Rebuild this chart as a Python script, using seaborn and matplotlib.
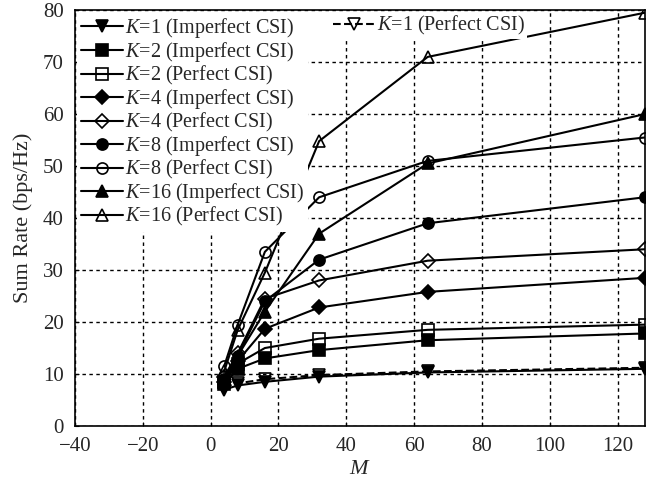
import matplotlib
matplotlib.use("Agg")
import matplotlib.pyplot as plt
import seaborn as sns
from matplotlib.lines import Line2D

M = [4, 8, 16, 32, 64, 128]
k1_imp = [7.0, 7.8, 8.5, 9.5, 10.3, 11.0]
k1_perf = [7.5, 8.2, 9.0, 9.8, 10.5, 11.2]
k2_imp = [8.0, 11.0, 13.0, 14.6, 16.5, 17.8]
k2_perf = [8.5, 12.0, 15.0, 16.8, 18.5, 19.5]
k4_imp = [8.5, 12.5, 18.7, 22.8, 25.8, 28.5]
k4_perf = [9.5, 14.0, 24.5, 28.0, 31.8, 34.0]
k8_imp = [9.0, 13.5, 24.0, 32.0, 39.0, 44.0]
k8_perf = [11.5, 19.5, 33.5, 44.0, 51.0, 55.5]
k16_imp = [8.5, 13.5, 22.0, 37.0, 50.5, 60.0]
k16_perf = [10.5, 18.5, 29.5, 54.8, 71.0, 79.5]

labels = ["$K$=1 (Imperfect CSI)", "$K$=2 (Imperfect CSI)", "$K$=2 (Perfect CSI)",
          "$K$=4 (Imperfect CSI)", "$K$=4 (Perfect CSI)", "$K$=8 (Imperfect CSI)",
          "$K$=8 (Perfect CSI)", "$K$=16 (Imperfect CSI)", "$K$=16 (Perfect CSI)",
          "$K$=1 (Perfect CSI)"]
series = [k1_imp, k2_imp, k2_perf, k4_imp, k4_perf, k8_imp, k8_perf, k16_imp, k16_perf, k1_perf]
markers = ["v", "s", "s", "D", "D", "o", "o", "^", "^", "v"]
filled = [True, True, False, True, False, True, False, True, False, False]
styles = ["-"] * 9 + ["--"]
xticks = [-40, -20, 0, 20, 40, 60, 80, 100, 120]
yticks = [0, 10, 20, 30, 40, 50, 60, 70, 80]

sns.set_style("ticks")
plt.rcParams["font.family"] = ["Liberation Serif", "DejaVu Serif"]
plt.rcParams["mathtext.fontset"] = "custom"
plt.rcParams["mathtext.it"] = "Liberation Serif:italic"
plt.rcParams["mathtext.rm"] = "Liberation Serif"

fig = plt.figure(figsize=(6.46, 4.83), dpi=100)
ax = fig.add_axes([0.116, 0.118, 0.882, 0.861])

handles = []
for vals, lab, mk, fl, ls in zip(series, labels, markers, filled, styles):
    ms = 7 if mk in ("D",) else 8
    sns.lineplot(x=M, y=vals, ax=ax, color="black", linestyle=ls, linewidth=1.5,
                 marker=mk, markersize=ms, markeredgecolor="black", markeredgewidth=1.2,
                 markerfacecolor="black" if fl else "none", clip_on=True)
    handles.append(Line2D([], [], color="black", linestyle=ls, linewidth=1.5, marker=mk,
                          markersize=ms, markeredgecolor="black", markeredgewidth=1.2,
                          markerfacecolor="black" if fl else "none", label=lab))

ax.set_xlim(-40, 128)
ax.set_ylim(0, 80)
ax.set_xticks(xticks)
ax.set_yticks(yticks)
ax.set_xticklabels([("\u2212" + str(-t)) if t < 0 else str(t) for t in xticks])
ax.tick_params(direction="in", labelsize=15, length=3, color="black")
ax.tick_params(axis="y", pad=8)
ax.tick_params(axis="x", pad=8)
for s in ax.spines.values():
    s.set_color("black")
    s.set_linewidth(1.2)
ax.grid(True, color="black", linestyle=(0, (2.5, 2.5)), linewidth=1.0)
ax.set_axisbelow(True)
ax.set_xlabel("$M$", fontsize=16, labelpad=3)
ax.set_ylabel("Sum Rate (bps/Hz)", fontsize=16, labelpad=7)

leg1 = ax.legend(handles=handles[:9], loc="upper left", fontsize=14.5, frameon=True,
                 facecolor="white", edgecolor="none", framealpha=1, fancybox=False,
                 handlelength=2.1, handletextpad=0.1, labelspacing=0.0,
                 borderpad=0.2, borderaxespad=0.1)
ax.add_artist(leg1)
leg2 = ax.legend(handles=[handles[9]], loc="upper left", bbox_to_anchor=(0.445, 1.0),
                 fontsize=14.5, frameon=True, facecolor="white", edgecolor="none",
                 framealpha=1, fancybox=False, handlelength=2.1, handletextpad=0.1,
                 borderpad=0.1, borderaxespad=0.1)

fig.savefig("out.png", dpi=100)
